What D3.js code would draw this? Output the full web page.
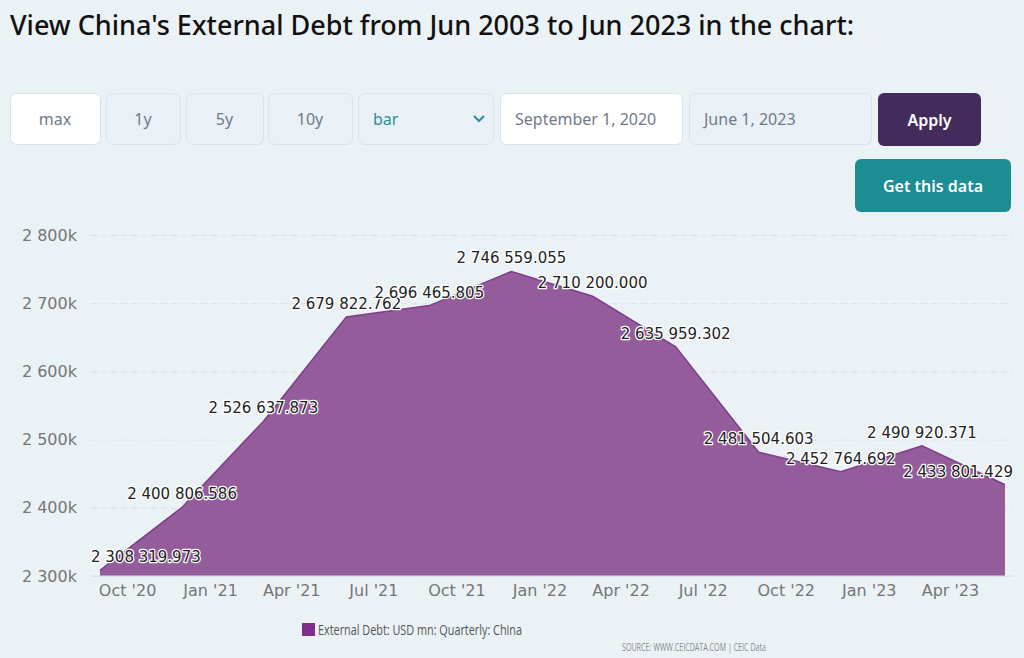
<!DOCTYPE html>
<html>
<head>
<meta charset="utf-8">
<script src="https://cdn.jsdelivr.net/npm/d3@7"></script>
<style>
  html, body { margin: 0; padding: 0; background: #ebf2f6; }
  svg { display: block; }
</style>
</head>
<body>
<svg id="chart" width="1024" height="658"></svg>
<script>
// quarterly observations (USD mn)
const quarters = ["2020-09-01", "2020-12-01", "2021-03-01", "2021-06-01", "2021-09-01", "2021-12-01",
                  "2022-03-01", "2022-06-01", "2022-09-01", "2022-12-01", "2023-03-01", "2023-06-01"];
const debt = [2308319.973, 2400806.586, 2526637.873, 2679822.762, 2696465.805, 2746559.055,
              2710200.000, 2635959.302, 2481504.603, 2452764.692, 2490920.371, 2433801.429];
const yTicks = [2300000, 2400000, 2500000, 2600000, 2700000, 2800000];
const seriesName = "External Debt: USD mn: Quarterly: China";
const controlLabels = ["max", "1y", "5y", "10y", "bar", "September 1, 2020", "June 1, 2023", "Apply"];

const parse = d3.timeParse("%Y-%m-%d");
const data = quarters.map(function(q, i) { return {date: parse(q), value: debt[i]}; });

const svg = d3.select("#chart");
const plot = {left: 91, right: 1013, top: 235, bottom: 576};

// title
svg.append("text").attr("x", 10).attr("y", 35)
  .style("font-family", "'Noto Sans', sans-serif").style("font-size", "27px").style("font-weight", 500)
  .style("fill", "#111")
  .text("View China's External Debt from Jun 2003 to Jun 2023 in the chart:");

// controls row
const boxes = [
  {x: 10, w: 90, fill: "#fff"}, {x: 106, w: 74}, {x: 186, w: 77}, {x: 268, w: 84},
  {x: 358, w: 135}, {x: 500, w: 182, fill: "#fff"}, {x: 689, w: 182}
];
boxes.forEach(function(b, i) {
  svg.append("rect").attr("x", b.x + 0.5).attr("y", 93.5).attr("width", b.w).attr("height", 51)
    .attr("rx", 6).style("fill", b.fill || "#eaf1f6").style("stroke", "#d9e3ea");
  const t = svg.append("text").attr("y", 125)
    .style("font-family", "'Noto Sans', sans-serif").style("font-size", "16px")
    .style("fill", i == 4 ? "#2a8e97" : "#6f7a89").text(controlLabels[i]);
  if (i < 4) t.attr("x", b.x + b.w / 2).attr("text-anchor", "middle");
  else t.attr("x", b.x + 15);
});
svg.append("path").attr("d", "M474,116 l5,5 l5,-5")
  .style("fill", "none").style("stroke", "#2a8e97").style("stroke-width", 2);

svg.append("rect").attr("x", 878).attr("y", 93).attr("width", 103).attr("height", 53).attr("rx", 6)
  .style("fill", "#432b5b");
svg.append("text").attr("x", 929.5).attr("y", 126).attr("text-anchor", "middle")
  .style("font-family", "'Noto Sans', sans-serif").style("font-size", "16px").style("font-weight", 600)
  .style("fill", "#fff").text(controlLabels[7]);

svg.append("rect").attr("x", 855).attr("y", 159).attr("width", 156).attr("height", 53).attr("rx", 6)
  .style("fill", "#1b8d93");
svg.append("text").attr("x", 933).attr("y", 192).attr("text-anchor", "middle")
  .style("font-family", "'Noto Sans', sans-serif").style("font-size", "16px").style("font-weight", 600)
  .style("fill", "#fff").text("Get this data");

// scales
const x = d3.scaleTime().domain(d3.extent(data, function(d) { return d.date; })).range([100, 1005]);
const y = d3.scaleLinear().domain([2300000, 2800000]).range([plot.bottom, plot.top]);

// grid + y labels
const fmtK = function(v) { return d3.format(",")(v / 1000).replace(/,/g, " ") + "k"; };
const yAxis = svg.append("g").attr("transform", "translate(" + plot.left + ",0)")
  .call(d3.axisLeft(y).tickValues(yTicks).tickSize(-(plot.right - plot.left)).tickPadding(14).tickFormat(fmtK));
yAxis.select(".domain").remove();
yAxis.selectAll(".tick line").style("stroke", "#dbe2e8").style("stroke-dasharray", "6,4");
yAxis.selectAll(".tick text").style("font-family", "'DejaVu Sans', sans-serif").style("font-size", "16px")
  .style("fill", "#757575");

// area
const area = d3.area().x(function(d) { return x(d.date); }).y0(plot.bottom).y1(function(d) { return y(d.value); });
const line = d3.line().x(function(d) { return x(d.date); }).y(function(d) { return y(d.value); });
svg.append("path").datum(data).attr("d", area).style("fill", "#955c9c");
svg.append("path").datum(data).attr("d", line).style("fill", "none").style("stroke", "#7e3d8b").style("stroke-width", 1.5);

// x axis
const xAxis = svg.append("g").attr("transform", "translate(0," + plot.bottom + ")")
  .call(d3.axisBottom(x).ticks(d3.timeMonth.every(3)).tickSize(0).tickPadding(9).tickFormat(d3.timeFormat("%b '%y")));
xAxis.select(".domain").attr("d", "M" + plot.left + ",0H" + plot.right).style("stroke", "#d6dde3");
xAxis.selectAll(".tick text").style("font-family", "'DejaVu Sans', sans-serif").style("font-size", "16px")
  .style("fill", "#757575");

// data labels
const fmtVal = function(v) { return d3.format(",.3f")(v).replace(/,/g, " "); };
svg.append("g").selectAll("text").data(data).enter().append("text")
  .attr("y", function(d) { return y(d.value) - 8; })
  .attr("x", function(d) { return x(d.date); })
  .attr("text-anchor", "middle")
  .style("font-family", "'DejaVu Sans', sans-serif").style("font-size", "15px")
  .style("fill", "#222").style("stroke", "#fff").style("stroke-width", 2.5).style("paint-order", "stroke")
  .style("stroke-linejoin", "round")
  .text(function(d) { return fmtVal(d.value); })
  .each(function() {
    const el = d3.select(this);
    const w = this.getComputedTextLength();
    let cx = +el.attr("x");
    if (cx - w / 2 < plot.left) cx = plot.left + w / 2;
    if (cx + w / 2 > plot.right) cx = plot.right - w / 2;
    el.attr("x", cx);
  });

// legend
svg.append("rect").attr("x", 302).attr("y", 623).attr("width", 13).attr("height", 13).style("fill", "#7e2f8e");
svg.append("text").attr("x", 318).attr("y", 635)
  .attr("textLength", 204).attr("lengthAdjust", "spacingAndGlyphs")
  .style("font-family", "'Open Sans', sans-serif").style("font-size", "15px")
  .style("fill", "#555").text(seriesName);

// source
svg.append("text").attr("x", 622).attr("y", 651)
  .attr("textLength", 144).attr("lengthAdjust", "spacingAndGlyphs")
  .style("font-family", "'Open Sans', sans-serif").style("font-size", "10px")
  .style("fill", "#8a8a8a").text("SOURCE: WWW.CEICDATA.COM | CEIC Data");
</script>
</body>
</html>
